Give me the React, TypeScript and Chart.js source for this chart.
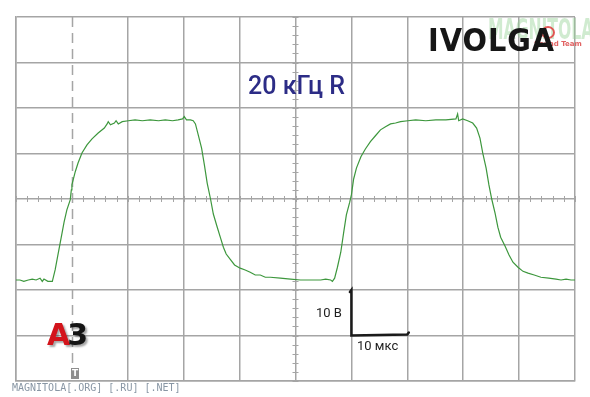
import React, { useEffect, useRef } from "react";
import { Chart, registerables } from "chart.js";

Chart.register(...registerables);

// ---- data (time in µs, voltage in V) ----
const timeUs = [
  0, 0.7, 1.4, 2.2, 2.9, 3.6, 4.3, 4.7, 5.0, 5.7, 6.5, 7.0, 7.5, 8.1, 8.6, 9.1, 9.7, 9.9, 10.0, 10.6,
  11.1, 11.8, 12.7, 13.6, 14.7, 15.8, 16.3, 16.5, 16.9, 17.6, 17.9, 18.3, 19.0, 20.1, 21.3, 22.6, 24.0,
  25.5, 26.7, 28.0, 29.0, 29.8, 30.1, 30.5, 31.2, 31.7, 32.1, 32.6, 33.2, 33.7, 34.2, 34.8, 35.3, 36.0,
  36.6, 37.1, 37.6, 38.4, 39.1, 40.1, 41.0, 41.9, 42.8, 43.7, 44.6, 45.5, 47.3, 49.1, 50.9, 52.7, 54.5,
  55.4, 56.3, 56.6, 57.0, 57.5, 58.1, 58.6, 59.1, 59.7, 60.0, 60.4, 60.9, 61.7, 62.5, 63.4, 64.3, 65.2,
  66.1, 67.0, 67.9, 68.8, 70.1, 71.5, 73.3, 75.1, 76.9, 78.7, 79.0, 79.2, 79.9, 80.8, 81.7, 82.4, 83.0,
  83.5, 84.1, 84.6, 85.1, 85.7, 86.2, 86.7, 87.5, 88.2, 88.9, 89.8, 90.7, 91.6, 92.7, 93.9, 95.3, 96.6,
  97.5, 98.4, 99.3, 100,
];
const voltage = [
  -17.8, -17.8, -18.1, -17.8, -17.6, -17.8, -17.4, -18.1, -17.6, -18.1, -18.1, -15.6, -12.3, -8.4, -5.1, -2.4, -0.2, 2.0, 3.1, 6.0,
  7.9, 10.1, 11.9, 13.2, 14.5, 15.6, 16.5, 17.0, 16.3, 16.7, 17.2, 16.5, 17.0, 17.2, 17.4, 17.2, 17.4,
  17.2, 17.4, 17.2, 17.4, 17.6, 18.1, 17.4, 17.4, 17.2, 16.5, 14.1, 11.2, 7.5, 3.5, 0, -3.3, -6.2,
  -8.6, -10.6, -12.1, -13.4, -14.5, -15.2, -15.6, -16.1, -16.7, -16.7, -17.2, -17.2, -17.4, -17.6, -17.8, -17.8, -17.8,
  -17.6, -17.8, -18.1, -17.4, -15.0, -11.7, -7.5, -3.5, -0.7, 0.9, 4.4, 6.8, 9.3, 11.0, 12.6, 13.9, 15.2,
  15.9, 16.5, 16.7, 17.0, 17.2, 17.4, 17.2, 17.4, 17.4, 17.6, 18.7, 17.2, 17.6, 17.2, 16.7, 15.6, 13.4,
  10.1, 6.8, 3.1, 0, -3.1, -6.2, -8.4, -10.4, -12.3, -13.9, -15.0, -15.9, -16.3, -16.7, -17.2, -17.4, -17.6,
  -17.8, -17.6, -17.8, -17.8,
];

const timeRange = [0, 100];
const voltRange = [-40, 40];
const timePerDiv = 10;
const voltPerDiv = 10;
const triggerTime = 10;
const scaleBarOrigin = [60, -30];

const titleText = "20 кГц R";
const brandText = "IVOLGA";
const voltLabel = "10 В";
const timeLabel = "10 мкс";
const footerText = "MAGNITOLA[.ORG] [.RU] [.NET]";

const GRID = "#a5a5a5";
const TRACE = "#3d973d";

const overlayPlugin = {
  id: "scopeOverlay",
  beforeDatasetsDraw(chart: any) {
    const { ctx, chartArea, scales } = chart;
    const x = scales.x;
    const y = scales.y;
    ctx.save();
    // dashed trigger line
    ctx.strokeStyle = GRID;
    ctx.lineWidth = 1.5;
    ctx.setLineDash([10, 6]);
    const tx = Math.round(x.getPixelForValue(triggerTime)) + 0.5;
    ctx.beginPath();
    ctx.moveTo(tx, chartArea.top);
    ctx.lineTo(tx, chartArea.bottom);
    ctx.stroke();
    ctx.setLineDash([]);
    // minor ticks on centre lines
    ctx.lineWidth = 1;
    const cy = y.getPixelForValue(0);
    const cx = x.getPixelForValue((timeRange[0] + timeRange[1]) / 2);
    ctx.beginPath();
    for (let t = timeRange[0]; t <= timeRange[1]; t += timePerDiv / 5) {
      const px = Math.round(x.getPixelForValue(t)) + 0.5;
      ctx.moveTo(px, cy - 3);
      ctx.lineTo(px, cy + 3);
    }
    for (let v = voltRange[0]; v <= voltRange[1]; v += voltPerDiv / 5) {
      const py = Math.round(y.getPixelForValue(v)) + 0.5;
      ctx.moveTo(cx - 3, py);
      ctx.lineTo(cx + 3, py);
    }
    ctx.stroke();
    ctx.restore();
  },
  afterDatasetsDraw(chart: any) {
    const { ctx, scales } = chart;
    const x = scales.x;
    const y = scales.y;
    const ox = x.getPixelForValue(scaleBarOrigin[0]);
    const oy = y.getPixelForValue(scaleBarOrigin[1]);
    const topY = y.getPixelForValue(scaleBarOrigin[1] + voltPerDiv);
    const rightX = x.getPixelForValue(scaleBarOrigin[0] + timePerDiv);
    ctx.save();
    ctx.strokeStyle = "#1a1a1a";
    ctx.lineWidth = 2.5;
    ctx.lineCap = "round";
    ctx.beginPath();
    ctx.moveTo(ox - 1.5, topY + 2);
    ctx.lineTo(ox, topY);
    ctx.lineTo(ox, oy);
    ctx.lineTo(rightX, oy - 1);
    ctx.lineTo(rightX + 1.5, oy - 3);
    ctx.stroke();
    ctx.restore();
  },
};

export default function App() {
  const canvasRef = useRef<HTMLCanvasElement | null>(null);

  useEffect(() => {
    if (!canvasRef.current) return;
    const points = timeUs.map((t, i) => ({ x: t, y: voltage[i] }));
    const gridColor = (c: any) => (c.tick && c.tick.value === triggerTime ? "rgba(0,0,0,0)" : GRID);
    const chart = new Chart(canvasRef.current, {
      type: "line",
      data: {
        datasets: [
          {
            data: points,
            borderColor: TRACE,
            borderWidth: 1.2,
            pointRadius: 0,
            tension: 0,
            fill: false,
          },
        ],
      },
      options: {
        animation: false,
        responsive: false,
        maintainAspectRatio: false,
        layout: { padding: { left: 16, right: 15, top: 17, bottom: 16 } },
        plugins: { legend: { display: false }, tooltip: { enabled: false }, title: { display: false } },
        scales: {
          x: {
            type: "linear",
            min: timeRange[0],
            max: timeRange[1],
            ticks: { display: false, stepSize: timePerDiv },
            grid: { color: gridColor, lineWidth: 1.5, drawTicks: false },
            border: { display: true, color: GRID, width: 1.5 },
          },
          y: {
            type: "linear",
            min: voltRange[0],
            max: voltRange[1],
            ticks: { display: false, stepSize: voltPerDiv },
            grid: { color: GRID, lineWidth: 1.5, drawTicks: false },
            border: { display: true, color: GRID, width: 1.5 },
          },
        },
      },
      plugins: [overlayPlugin],
    });
    return () => chart.destroy();
  }, []);

  const abs = (s: React.CSSProperties): React.CSSProperties => ({ position: "absolute", whiteSpace: "nowrap", ...s });

  return (
    <div style={{ position: "fixed", left: 0, top: 0, width: 590, height: 397, background: "#fff", overflow: "hidden" }}>
      <canvas ref={canvasRef} width={590} height={397} style={{ position: "absolute", left: 0, top: 0, width: 590, height: 397 }} />
      {/* watermark */}
      <div style={abs({ left: 488, top: 14, fontFamily: "DejaVu Sans Condensed", fontWeight: 700, fontSize: 28, lineHeight: "32px", color: "rgba(150,210,150,0.45)", transform: "scaleX(0.62)", transformOrigin: "left top" })}>MAGNITOLA</div>
      <div style={abs({ left: 541, top: 26, width: 14, height: 13, borderRadius: "50%", border: "2.5px solid rgba(225,60,60,0.85)", boxSizing: "border-box" })} />
      <div style={abs({ left: 534, top: 40, fontFamily: "DejaVu Sans", fontWeight: 700, fontSize: 7, lineHeight: "8px", color: "rgba(220,70,70,0.85)" })}>Sound Team</div>
      {/* brand */}
      <div style={abs({ left: 428, top: 21, fontFamily: "DejaVu Sans Condensed", fontWeight: 700, fontSize: 32, lineHeight: "38px", color: "#161616", letterSpacing: 1 })}>{brandText}</div>
      {/* title */}
      <div style={abs({ left: 248, top: 71, fontFamily: "Roboto", fontWeight: 500, fontSize: 25, lineHeight: "30px", color: "#2c2c86" })}>{titleText}</div>
      {/* scale bar labels */}
      <div style={abs({ left: 316, top: 305, fontFamily: "Roboto", fontSize: 13, lineHeight: "16px", color: "#1e1e1e" })}>{voltLabel}</div>
      <div style={abs({ left: 357, top: 338, fontFamily: "Roboto", fontSize: 13, lineHeight: "16px", color: "#1e1e1e" })}>{timeLabel}</div>
      {/* A3 logo */}
      <div style={abs({ left: 47, top: 317, fontFamily: "DejaVu Sans", fontWeight: 700, fontSize: 30, lineHeight: "36px", letterSpacing: -3, textShadow: "2px 2px 2px rgba(0,0,0,0.35)" })}>
        <span style={{ color: "#d3141b" }}>A</span>
        <span style={{ color: "#151515" }}>3</span>
      </div>
      {/* trigger marker */}
      <div style={abs({ left: 71, top: 368, width: 8, height: 11, background: "#8e8e8e", color: "#fff", fontFamily: "DejaVu Sans", fontWeight: 700, fontSize: 9, lineHeight: "11px", textAlign: "center" })}>T</div>
      {/* footer */}
      <div style={abs({ left: 12, top: 382, fontFamily: "DejaVu Sans Mono", fontSize: 10, lineHeight: "12px", color: "#8896a4" })}>{footerText}</div>
    </div>
  );
}
